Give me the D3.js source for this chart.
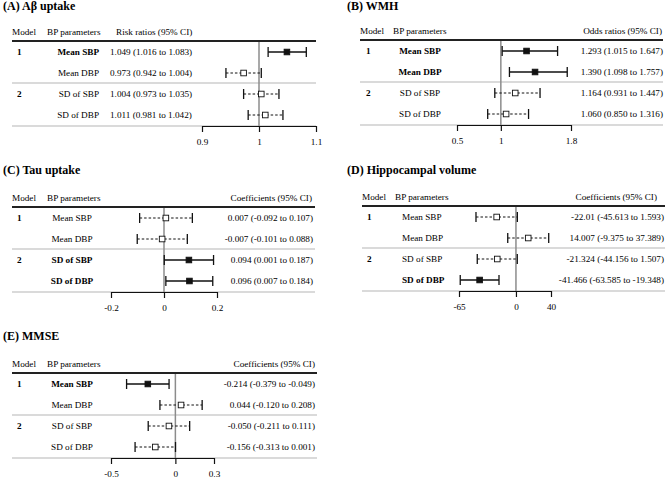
<!DOCTYPE html>
<html>
<head>
<meta charset="utf-8">
<script src="https://cdn.jsdelivr.net/npm/d3@7"></script>
<style>
  html, body { margin: 0; padding: 0; background: #fff; }
</style>
</head>
<body>
<div id="chart"></div>
<script>
// rows shared by every panel
const rowLabels = ['Mean SBP', 'Mean DBP', 'SD of SBP', 'SD of DBP'];
const modelNums = ['1', '', '2', ''];

// (A) Abeta uptake
const abetaEst = [1.049, 0.973, 1.004, 1.011];
const abetaLow = [1.016, 0.942, 0.973, 0.981];
const abetaHigh = [1.083, 1.004, 1.035, 1.042];
const abetaSig = [true, false, false, false];
const abetaText = ['1.049 (1.016 to 1.083)', '0.973 (0.942 to 1.004)', '1.004 (0.973 to 1.035)', '1.011 (0.981 to 1.042)'];
const abetaTicks = [0.9, 1, 1.1];

// (B) WMH
const wmhEst = [1.293, 1.390, 1.164, 1.060];
const wmhLow = [1.015, 1.098, 0.931, 0.850];
const wmhHigh = [1.647, 1.757, 1.447, 1.316];
const wmhSig = [true, true, false, false];
const wmhText = ['1.293 (1.015 to 1.647)', '1.390 (1.098 to 1.757)', '1.164 (0.931 to 1.447)', '1.060 (0.850 to 1.316)'];
const wmhTicks = [0.5, 1, 1.8];

// (C) Tau uptake
const tauEst = [0.007, -0.007, 0.094, 0.096];
const tauLow = [-0.092, -0.101, 0.001, 0.007];
const tauHigh = [0.107, 0.088, 0.187, 0.184];
const tauSig = [false, false, true, true];
const tauText = ['0.007 (-0.092 to 0.107)', '-0.007 (-0.101 to 0.088)', '0.094 (0.001 to 0.187)', '0.096 (0.007 to 0.184)'];
const tauTicks = [-0.2, 0, 0.2];

// (D) Hippocampal volume
const hippoEst = [-22.01, 14.007, -21.324, -41.466];
const hippoLow = [-45.613, -9.375, -44.156, -63.585];
const hippoHigh = [1.593, 37.389, 1.507, -19.348];
const hippoSig = [false, false, false, true];
const hippoText = ['-22.01 (-45.613 to 1.593)', '14.007 (-9.375 to 37.389)', '-21.324 (-44.156 to 1.507)', '-41.466 (-63.585 to -19.348)'];
const hippoTicks = [-65, 0, 40];

// (E) MMSE
const mmseEst = [-0.214, 0.044, -0.050, -0.156];
const mmseLow = [-0.379, -0.120, -0.211, -0.313];
const mmseHigh = [-0.049, 0.208, 0.111, 0.001];
const mmseSig = [true, false, false, false];
const mmseText = ['-0.214 (-0.379 to -0.049)', '0.044 (-0.120 to 0.208)', '-0.050 (-0.211 to 0.111)', '-0.156 (-0.313 to 0.001)'];
const mmseTicks = [-0.5, 0, 0.3];

const width = 669, height = 482;
const serif = 'Liberation Serif';

const svg = d3.select('#chart').append('svg')
  .attr('width', width)
  .attr('height', height)
  .attr('font-family', serif);

// layout of each panel
const panels = [
  { title: '(A) Aβ uptake', metric: 'Risk ratios (95% CI)', est: abetaEst, low: abetaLow, high: abetaHigh, sig: abetaSig, text: abetaText, ticks: abetaTicks,
    ref: 1, x0: 12, x1: 316, titleX: 3, titleY: 10, top: 41, plot: [202, 316],
    modelX: 17, paramX: 47, labelX: 99, labelAnchor: 'end', valX: 110, valAnchor: 'start', metricX: 116, metricAnchor: 'start' },
  { title: '(B) WMH', metric: 'Odds ratios (95% CI)', est: wmhEst, low: wmhLow, high: wmhHigh, sig: wmhSig, text: wmhText, ticks: wmhTicks,
    ref: 1, x0: 360, x1: 663, titleX: 347, titleY: 10, top: 40, plot: [457, 571],
    modelX: 366, paramX: 393, labelX: 420, labelAnchor: 'middle', valX: 663, valAnchor: 'end', metricX: 662, metricAnchor: 'end' },
  { title: '(C) Tau uptake', metric: 'Coefficients (95% CI)', est: tauEst, low: tauLow, high: tauHigh, sig: tauSig, text: tauText, ticks: tauTicks,
    ref: 0, x0: 12, x1: 315, titleX: 3, titleY: 174, top: 207, plot: [111, 217],
    modelX: 17, paramX: 47, labelX: 72, labelAnchor: 'middle', valX: 313, valAnchor: 'end', metricX: 312, metricAnchor: 'end' },
  { title: '(D) Hippocampal volume', metric: 'Coefficients (95% CI)', est: hippoEst, low: hippoLow, high: hippoHigh, sig: hippoSig, text: hippoText, ticks: hippoTicks,
    ref: 0, x0: 362, x1: 665, titleX: 347, titleY: 174, top: 206, plot: [459, 551],
    modelX: 367, paramX: 395, labelX: 402, labelAnchor: 'start', valX: 664, valAnchor: 'end', metricX: 657, metricAnchor: 'end' },
  { title: '(E) MMSE', metric: 'Coefficients (95% CI)', est: mmseEst, low: mmseLow, high: mmseHigh, sig: mmseSig, text: mmseText, ticks: mmseTicks,
    ref: 0, x0: 12, x1: 317, titleX: 3, titleY: 340, top: 373, plot: [111, 214],
    modelX: 17, paramX: 47, labelX: 72, labelAnchor: 'middle', valX: 315, valAnchor: 'end', metricX: 315, metricAnchor: 'end' }
];

const rowStep = 21;
const fs = 9.2;

panels.forEach(p => {
  const g = svg.append('g');
  const rows = rowLabels.map((lab, i) => ({
    label: lab, model: modelNums[i], est: p.est[i], low: p.low[i], high: p.high[i], sig: p.sig[i], text: p.text[i]
  }));
  const y = d3.scalePoint().domain(d3.range(rows.length))
    .range([p.top + 11, p.top + 11 + rowStep * (rows.length - 1)]);
  const bottom = p.top + 85;
  const sep = p.top + 42;

  const x = d3.scaleLinear()
    .domain(d3.extent(p.ticks))
    .range(p.plot);

  // title
  g.append('text')
    .attr('x', p.titleX).attr('y', p.titleY)
    .attr('font-family', serif)
    .attr('font-size', 12).attr('font-weight', 'bold')
    .attr('fill', '#000')
    .text(p.title);

  // header
  const head = [
    { x: p.x0, a: 'start', t: 'Model' },
    { x: p.paramX, a: 'start', t: 'BP parameters' },
    { x: p.metricX, a: p.metricAnchor, t: p.metric }
  ];
  g.selectAll('.head').data(head).enter().append('text')
    .attr('x', d => d.x).attr('y', p.top - 6)
    .attr('text-anchor', d => d.a)
    .attr('font-family', serif).attr('font-size', fs)
    .attr('fill', '#000')
    .text(d => d.t);

  // rules
  g.append('line').attr('x1', p.x0).attr('x2', p.x1).attr('y1', p.top).attr('y2', p.top)
    .attr('stroke', '#222').attr('stroke-width', 2);
  g.append('line').attr('x1', p.x0).attr('x2', p.x1).attr('y1', sep).attr('y2', sep)
    .attr('stroke', '#b5b5b5').attr('stroke-width', 1);
  g.append('line').attr('x1', p.x0).attr('x2', p.x1).attr('y1', bottom).attr('y2', bottom)
    .attr('stroke', '#b5b5b5').attr('stroke-width', 1);

  // reference line
  g.append('line')
    .attr('x1', x(p.ref)).attr('x2', x(p.ref))
    .attr('y1', p.top + 1).attr('y2', bottom)
    .attr('stroke', '#8c8c8c').attr('stroke-width', 1.5);

  // axis
  const axis = g.append('g')
    .attr('transform', 'translate(0,' + bottom + ')')
    .call(d3.axisBottom(x).tickValues(p.ticks).tickSize(6).tickSizeOuter(0).tickFormat(d => String(d)));
  axis.attr('font-family', serif).attr('font-size', fs);
  axis.select('.domain').attr('stroke', '#111').attr('stroke-width', 1.2);
  axis.selectAll('.tick line').attr('stroke', '#111').attr('stroke-width', 1.2);
  axis.selectAll('.tick text')
    .attr('y', 12)
    .attr('fill', '#000');

  // row text
  const r = g.selectAll('.row').data(rows).enter().append('g').attr('class', 'row')
    .attr('font-family', serif).attr('font-size', fs).attr('fill', '#000');
  r.append('text').attr('x', p.modelX).attr('y', (d, i) => y(i) + 3.2)
    .attr('font-weight', 'bold').text(d => d.model);
  r.append('text').attr('x', p.labelX).attr('y', (d, i) => y(i) + 3.2)
    .attr('text-anchor', p.labelAnchor)
    .attr('font-weight', d => d.sig ? 'bold' : 'normal')
    .text(d => d.label);
  r.append('text').attr('x', p.valX).attr('y', (d, i) => y(i) + 3.2)
    .attr('text-anchor', p.valAnchor)
    .text(d => d.text);

  // CI lines
  r.append('line')
    .attr('x1', d => x(d.low)).attr('x2', d => x(d.high))
    .attr('y1', (d, i) => y(i)).attr('y2', (d, i) => y(i))
    .attr('stroke', '#111')
    .attr('stroke-width', d => d.sig ? 1.3 : 1)
    .attr('stroke-dasharray', d => d.sig ? null : '2.5,2');
  ['low', 'high'].forEach(k => {
    r.append('line')
      .attr('x1', d => x(d[k])).attr('x2', d => x(d[k]))
      .attr('y1', (d, i) => y(i) - 5).attr('y2', (d, i) => y(i) + 5)
      .attr('stroke', '#111').attr('stroke-width', 1.3);
  });
  r.append('rect')
    .attr('x', d => x(d.est) - 2.8).attr('y', (d, i) => y(i) - 2.8)
    .attr('width', 5.6).attr('height', 5.6)
    .attr('fill', d => d.sig ? '#111' : '#fff')
    .attr('stroke', '#111').attr('stroke-width', 0.9);
});
</script>
</body>
</html>
